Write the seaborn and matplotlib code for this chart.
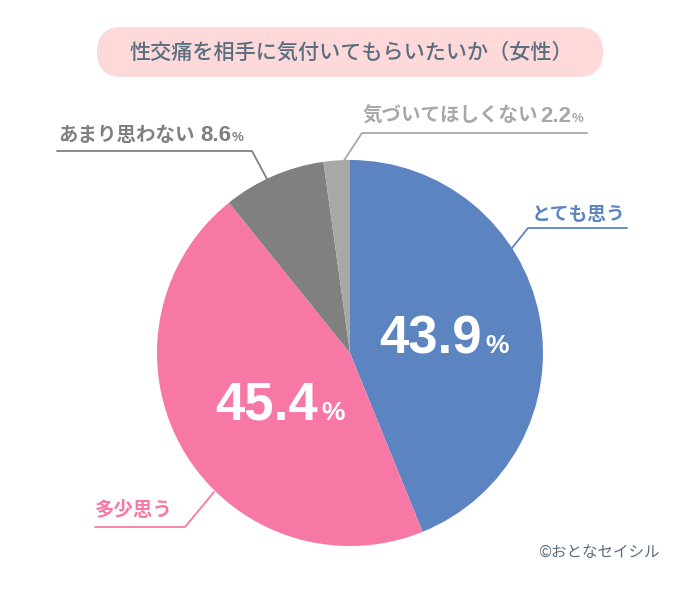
import matplotlib
matplotlib.use("Agg")
import matplotlib.pyplot as plt
import seaborn as sns
from matplotlib.patches import FancyBboxPatch

# ---- data ----
categories = ["とても思う", "多少思う", "あまり思わない", "気づいてほしくない"]
values = [43.9, 45.4, 8.6, 2.2]
title = "性交痛を相手に気付いてもらいたいか（女性）"
credit = "©おとなセイシル"

sns.set_style("white")
plt.rcParams["font.family"] = ["Noto Sans CJK JP", "DejaVu Sans"]
NUM = ["Liberation Sans", "DejaVu Sans"]

colors = sns.color_palette(["#5b84c0", "#f778a5", "#808080", "#a8a8a8"])
slate = "#5a6e80"

fig = plt.figure(figsize=(7, 6), dpi=100)
ax = fig.add_axes([0, 0, 1, 1])
ax.pie(values, colors=colors, startangle=-90, counterclock=True,
       center=(350, 353), radius=193, wedgeprops=dict(linewidth=0))
ax.set_xlim(0, 700)
ax.set_ylim(600, 0)
ax.set_aspect("equal")
ax.axis("off")

# title box
box = FancyBboxPatch((97, 27), 506, 50, boxstyle="round,pad=0,rounding_size=25",
                     fc="#fdd9da", ec="none")
ax.add_patch(box)
ax.text(351, 53, title, ha="center", va="center", fontsize=15.2,
        fontweight="medium", color=slate)

def fmt(v):
    return f"{v:.1f}"

# big percentages inside slices
ax.text(482, 353, fmt(values[0]), ha="right", va="baseline", fontsize=38,
        fontweight="bold", color="white", family=NUM)
ax.text(485, 353, "%", ha="left", va="baseline", fontsize=19,
        fontweight="bold", color="white", family=NUM)
ax.text(318, 420, fmt(values[1]), ha="right", va="baseline", fontsize=38,
        fontweight="bold", color="white", family=NUM)
ax.text(321, 420, "%", ha="left", va="baseline", fontsize=19,
        fontweight="bold", color="white", family=NUM)

# leader lines
lw = 1.3
ax.plot([627, 528, 512], [228, 228, 248], color=colors[0], lw=lw)
ax.plot([95, 185, 214], [527, 527, 492], color=colors[1], lw=lw)
ax.plot([57, 252, 267], [151, 151, 179], color=colors[2], lw=lw)
ax.plot([587, 362, 343], [133, 133, 162], color=colors[3], lw=lw)

# outside labels
ax.text(532, 220, categories[0], ha="left", va="baseline", fontsize=13.5,
        fontweight="bold", color=colors[0])
ax.text(95, 516, categories[1], ha="left", va="baseline", fontsize=14,
        fontweight="bold", color=colors[1])

ax.text(58, 141, categories[2], ha="left", va="baseline", fontsize=14,
        fontweight="bold", color=colors[2])
ax.text(200, 141, fmt(values[2]), ha="left", va="baseline", fontsize=16,
        fontweight="bold", color=colors[2], family=NUM)
ax.text(232, 141, "%", ha="left", va="baseline", fontsize=9.5,
        fontweight="bold", color=colors[2], family=NUM)

ax.text(363, 122, categories[3], ha="left", va="baseline", fontsize=14,
        fontweight="bold", color=colors[3])
ax.text(540, 122, fmt(values[3]), ha="left", va="baseline", fontsize=16,
        fontweight="bold", color=colors[3], family=NUM)
ax.text(572, 122, "%", ha="left", va="baseline", fontsize=9.5,
        fontweight="bold", color=colors[3], family=NUM)

ax.text(538, 552, credit, ha="left", va="center", fontsize=11.2, color=slate)

fig.savefig("out.png", dpi=100)
